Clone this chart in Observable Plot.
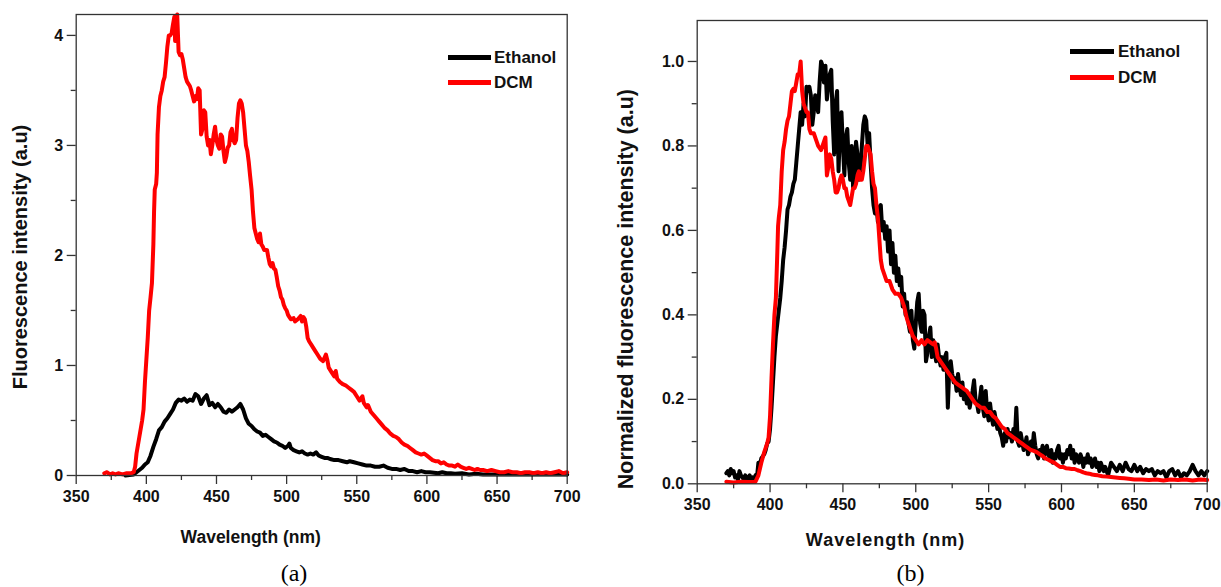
<!DOCTYPE html>
<html>
<head>
<meta charset="utf-8">
<script src="https://cdn.jsdelivr.net/npm/d3@7"></script>
<script src="https://cdn.jsdelivr.net/npm/@observablehq/plot@0.6"></script>
<style>
  html, body { margin: 0; padding: 0; background: #fff; }
  #wrap { position: relative; width: 1221px; height: 587px; overflow: hidden; background: #fff; }
  #wrap svg { position: absolute; top: 0; }
  .leg { position: absolute; font-family: "Liberation Sans", Arial, sans-serif; font-weight: bold; font-size: 17px; color: #111; line-height: 1; }
  .leg .sw { position: absolute; height: 5px; }
  .leg .tx { position: absolute; white-space: nowrap; transform: translateY(-50%); }
</style>
</head>
<body>
<div id="wrap"></div>
<script>
// ---- series names / colours ----
const seriesNames = ["Ethanol", "DCM"];
const seriesColors = ["#000000", "#ff0000"];

// ---- axis ticks ----
const xMajorTicks = [350, 400, 450, 500, 550, 600, 650, 700];
const xMinorTicks = [375, 425, 475, 525, 575, 625, 675];
const yMajorTicksA = [0, 1, 2, 3, 4];
const yMinorTicksA = [0.5, 1.5, 2.5, 3.5];
const yMajorTicksB = [0, 0.2, 0.4, 0.6, 0.8, 1.0];
const yMinorTicksB = [0.1, 0.3, 0.5, 0.7, 0.9];

// ---- panel (a): DCM ----
const dcmA_wl = [370,372,374,376,378,380,383,386,389,391,392,393,395,397,398,399,400,401,402,403,404,405,405.5,406,407,407.5,408,409,410,411,412,413,414,415,416,417,418,419,420,420.5,421,422,423,424,425,426,427,428,429,430,431,432,433,434,435,436,437,438,439,440,441,442,443,444,445,446,447,448,449,450,451,452,453,454,455,456,457,458,459,460,461,462,463,464,465,466,467,468,469,470,471,472,473,474,475,476,477,478,479,480,481,482,483,484,486,487,488,489,490,491,492,493,494,495,496,497,498,499,500,501,502,503,505,506,508,510,511,512,513,514,515,516,518,520,522,524,526,528,529,530,532,534,535,536,538,540,542,544,546,548,550,552,554,555,557,558,560,562,564,566,568,570,572,574,576,578,580,582,584,586,588,590,592,594,596,598,600,602,604,606,608,610,612,614,616,618,620,622,624,626,628,630,632,634,636,638,640,643,646,649,652,655,658,661,664,667,670,673,676,679,682,685,688,691,694,697,700];
const dcmA_val = [0.02,0.03,0.01,0.02,0.01,0.02,0.01,0.02,0.02,0.03,0.08,0.2,0.35,0.5,0.6,0.85,1.05,1.25,1.5,1.62,1.75,2.1,2.4,2.6,2.65,2.75,3.1,3.35,3.45,3.5,3.58,3.62,3.75,3.9,4.0,4.0,4.02,4.1,4.17,3.95,4.12,4.19,3.85,3.82,3.83,3.78,3.7,3.62,3.58,3.56,3.54,3.5,3.45,3.4,3.45,3.42,3.52,3.5,3.1,3.15,3.32,3.3,3.08,3.0,3.05,2.92,3.0,3.1,3.17,3.05,3.0,2.97,3.1,3.08,2.95,2.85,2.9,2.98,3.0,3.12,3.15,3.05,3.02,3.05,3.25,3.38,3.41,3.38,3.3,3.15,3.0,2.95,2.85,2.72,2.6,2.4,2.25,2.2,2.15,2.12,2.2,2.1,2.08,2.05,2.05,1.98,1.92,1.9,1.93,1.88,1.87,1.8,1.72,1.68,1.62,1.6,1.55,1.52,1.5,1.46,1.44,1.42,1.43,1.4,1.42,1.45,1.4,1.44,1.42,1.35,1.25,1.22,1.18,1.14,1.1,1.06,1.04,1.1,1.05,0.98,0.94,0.9,0.95,0.88,0.85,0.83,0.82,0.8,0.78,0.76,0.72,0.68,0.72,0.66,0.62,0.64,0.58,0.55,0.52,0.49,0.46,0.43,0.41,0.38,0.36,0.35,0.33,0.3,0.28,0.27,0.25,0.23,0.21,0.2,0.19,0.2,0.18,0.16,0.14,0.13,0.13,0.11,0.12,0.1,0.09,0.09,0.08,0.1,0.08,0.07,0.06,0.07,0.06,0.05,0.06,0.05,0.05,0.04,0.05,0.04,0.03,0.03,0.04,0.03,0.03,0.02,0.03,0.03,0.02,0.03,0.02,0.03,0.02,0.03,0.04,0.02,0.03];

// ---- panel (a): Ethanol ----
const ethA_wl = [385,388,391,393,395,397,399,401,403,405,407,409,411,413,415,417,419,421,423,425,427,429,431,433,435,437,439,441,443,445,447,449,451,453,455,457,459,461,463,465,467,469,471,473,475,477,479,481,483,485,487,489,491,493,495,497,499,501,502,503,505,507,509,511,513,515,517,519,521,523,525,527,529,531,534,537,540,543,545,548,551,554,557,560,563,566,569,572,575,578,581,584,587,590,593,596,599,602,605,608,611,614,617,620,625,630,635,640,650,660,670,680,690,700];
const ethA_val = [0.0,0.005,0.01,0.03,0.05,0.07,0.1,0.12,0.18,0.26,0.33,0.41,0.44,0.49,0.52,0.56,0.6,0.66,0.69,0.68,0.7,0.67,0.69,0.68,0.74,0.72,0.65,0.7,0.73,0.64,0.66,0.62,0.65,0.62,0.58,0.57,0.6,0.58,0.6,0.62,0.65,0.6,0.52,0.47,0.45,0.42,0.4,0.39,0.36,0.37,0.35,0.33,0.31,0.3,0.28,0.27,0.25,0.27,0.29,0.25,0.23,0.22,0.21,0.22,0.2,0.19,0.2,0.19,0.21,0.18,0.17,0.16,0.16,0.15,0.14,0.14,0.13,0.12,0.13,0.12,0.11,0.1,0.09,0.09,0.08,0.08,0.09,0.07,0.06,0.06,0.05,0.06,0.04,0.04,0.03,0.04,0.03,0.03,0.025,0.02,0.03,0.02,0.02,0.015,0.02,0.01,0.015,0.01,0.01,0.01,0.01,0.01,0.01,0.01];

// ---- panel (b): DCM normalized ----
const dcmB_wl = [370,375,380,385,390,392,394,396,398,399,400,401,402,403,404,405,405.5,406,407,408,409,410,411,412,413,414,415,416,417,418,419,420,421,422,423,424,425,426,427,428,430,432,433,435,436,437,438,439,440,441,442,443,444,445,446,447,448,449,450,451,452,453,454,455,456,457,458,459,460,461,462,463,464,465,466,467,468,469,470,471,472,473,474,475,476,477,478,480,482,484,486,488,490,491,492,494,496,498,500,502,504,506,508,510,512,513,514,515,517,519,521,523,525,527,529,531,533,535,537,539,541,543,545,547,549,551,553,555,557,559,561,563,565,567,569,571,573,575,577,579,581,583,585,587,589,591,593,595,597,599,601,603,605,607,609,611,613,615,617,619,621,623,625,628,631,634,637,640,643,646,650,655,660,665,670,675,680,685,690,695,700];
const dcmB_val = [0.005,0.003,0.005,0.004,0.005,0.02,0.05,0.075,0.095,0.11,0.16,0.25,0.33,0.4,0.44,0.55,0.61,0.63,0.66,0.74,0.79,0.81,0.84,0.86,0.87,0.9,0.93,0.935,0.93,0.95,0.97,0.97,1.0,0.93,0.9,0.89,0.88,0.88,0.84,0.83,0.83,0.81,0.8,0.79,0.8,0.81,0.82,0.73,0.75,0.78,0.77,0.74,0.72,0.69,0.69,0.7,0.72,0.73,0.72,0.7,0.7,0.68,0.67,0.66,0.68,0.7,0.7,0.71,0.73,0.74,0.72,0.72,0.74,0.77,0.8,0.8,0.79,0.78,0.74,0.71,0.7,0.66,0.63,0.58,0.53,0.51,0.5,0.48,0.48,0.46,0.45,0.45,0.44,0.43,0.42,0.39,0.37,0.35,0.34,0.33,0.34,0.33,0.34,0.335,0.33,0.335,0.32,0.3,0.29,0.28,0.27,0.26,0.25,0.24,0.235,0.23,0.225,0.22,0.21,0.2,0.19,0.185,0.18,0.18,0.17,0.17,0.16,0.155,0.145,0.135,0.13,0.12,0.115,0.11,0.105,0.1,0.095,0.09,0.085,0.08,0.078,0.075,0.07,0.066,0.06,0.057,0.053,0.05,0.045,0.04,0.04,0.037,0.036,0.035,0.035,0.032,0.03,0.027,0.025,0.024,0.022,0.021,0.02,0.018,0.017,0.016,0.015,0.014,0.013,0.012,0.01,0.01,0.009,0.01,0.008,0.01,0.009,0.01,0.008,0.01,0.009];

// ---- panel (b): Ethanol normalized ----
const ethB_wl = [370,371,372,373,374,375,376,377,378,379,380,381,382,383,384,385,386,387,388,389,390,391,392,393,394,395,396,397,398,399,400,401,402,403,404,405,406,407,408,409,410,411,412,413,414,415,416,417,418,419,420,421,422,423,424,425,426,427,428,429,430,431,432,433,434,435,436,437,438,439,440,441,442,443,444,445,446,447,448,449,450,451,452,453,454,455,456,457,458,459,460,461,462,463,464,465,466,467,468,469,470,471,472,473,474,475,476,477,478,479,480,481,482,483,484,485,486,487,488,489,490,491,492,493,494,495,496,497,498,499,500,501,502,503,504,505,506,507,508,509,510,511,512,513,514,515,516,517,518,519,520,521,522,523,524,525,526,527,528,529,530,531,532,533,534,535,536,537,538,539,540,541,542,543,544,545,546,547,548,549,550,551,552,553,554,555,556,557,558,559,560,561,562,563,564,565,566,567,568,569,570,571,572,573,574,575,576,577,578,579,580,581,582,583,584,585,586,587,588,589,590,591,592,593,594,595,596,597,598,599,600,601,602,603,604,605,606,607,608,609,610,611,612,613,614,615,616,617,618,619,620,621,622,623,624,625,626,627,628,629,630,632,634,636,638,640,642,644,646,648,650,652,654,656,658,660,662,664,666,668,670,672,674,676,678,680,682,684,686,688,690,692,694,696,698,700];
const ethB_val = [0.025,0.03,0.02,0.035,0.025,0.03,0.015,0.02,0.01,0.03,0.02,0.015,0.01,0.02,0.01,0.015,0.02,0.01,0.015,0.01,0.02,0.015,0.05,0.045,0.06,0.065,0.07,0.08,0.095,0.1,0.13,0.18,0.24,0.3,0.35,0.38,0.41,0.44,0.48,0.53,0.56,0.6,0.65,0.66,0.68,0.69,0.71,0.72,0.76,0.8,0.84,0.88,0.85,0.9,0.87,0.94,0.93,0.94,0.92,0.85,0.88,0.92,0.9,0.88,0.95,1.0,0.99,0.95,0.99,0.91,0.94,0.97,0.98,0.86,0.78,0.9,0.93,0.74,0.84,0.88,0.8,0.73,0.82,0.84,0.76,0.72,0.8,0.7,0.74,0.81,0.78,0.72,0.74,0.8,0.85,0.87,0.86,0.8,0.83,0.76,0.7,0.66,0.64,0.66,0.62,0.65,0.66,0.6,0.62,0.58,0.61,0.55,0.6,0.52,0.57,0.5,0.54,0.48,0.51,0.47,0.49,0.42,0.45,0.4,0.43,0.38,0.36,0.41,0.34,0.32,0.38,0.43,0.45,0.38,0.36,0.41,0.4,0.29,0.31,0.35,0.37,0.3,0.34,0.31,0.29,0.33,0.3,0.28,0.3,0.27,0.3,0.31,0.18,0.27,0.29,0.26,0.24,0.25,0.22,0.26,0.23,0.21,0.24,0.2,0.22,0.19,0.21,0.18,0.2,0.22,0.245,0.2,0.19,0.17,0.2,0.23,0.18,0.16,0.22,0.17,0.15,0.19,0.16,0.14,0.17,0.15,0.13,0.14,0.12,0.11,0.09,0.12,0.1,0.13,0.11,0.12,0.1,0.13,0.11,0.18,0.1,0.09,0.12,0.1,0.08,0.09,0.11,0.07,0.08,0.1,0.08,0.12,0.09,0.07,0.06,0.08,0.07,0.09,0.06,0.08,0.09,0.07,0.06,0.08,0.05,0.07,0.06,0.08,0.09,0.06,0.07,0.05,0.07,0.06,0.08,0.07,0.09,0.06,0.08,0.05,0.07,0.06,0.05,0.07,0.06,0.04,0.06,0.05,0.07,0.05,0.06,0.04,0.05,0.06,0.04,0.05,0.03,0.05,0.04,0.03,0.04,0.02,0.05,0.04,0.03,0.045,0.03,0.05,0.035,0.03,0.045,0.03,0.04,0.025,0.035,0.03,0.035,0.02,0.03,0.025,0.03,0.015,0.03,0.035,0.02,0.03,0.015,0.025,0.02,0.03,0.045,0.03,0.02,0.03,0.02,0.03];

// ---- texts ----
const xTitle = "Wavelength (nm)";
const yTitleA = "Fluorescence intensity (a.u)";
const yTitleB = "Normalized fluorescence intensity (a.u)";
const captions = ["(a)", "(b)"];

const SANS = "'Liberation Sans', Arial, sans-serif";
const SERIF = "'Liberation Serif', 'Times New Roman', serif";
const AX = "#333";

function panel(cfg) {
  return Plot.plot({
    width: cfg.width, height: 587,
    marginLeft: cfg.ml, marginRight: cfg.mr, marginTop: cfg.mt, marginBottom: cfg.mb,
    x: {domain: [350, 700]},
    y: {domain: cfg.yDomain},
    style: {fontFamily: SANS, fontWeight: "bold", fontSize: "15.5px", color: "#111", background: "transparent", overflow: "visible"},
    marks: [
      Plot.axisX({ticks: xMajorTicks, tickSize: 9, tickPadding: 6, tickFormat: d => String(d), label: null, stroke: AX, strokeWidth: 1.3, fontSize: 16}),
      Plot.axisX({ticks: xMinorTicks, tickSize: 5, tickFormat: () => "", label: null, stroke: AX, strokeWidth: 1.3}),
      Plot.axisY({ticks: cfg.yMajor, tickSize: 9, tickPadding: 4, tickFormat: cfg.yFormat, label: null, stroke: AX, strokeWidth: 1.3, fontSize: 16}),
      Plot.axisY({ticks: cfg.yMinor, tickSize: 5, tickFormat: () => "", label: null, stroke: AX, strokeWidth: 1.3}),
      Plot.line(cfg.eth.val, {x: cfg.eth.wl, y: cfg.eth.val, stroke: seriesColors[0], strokeWidth: 4, strokeLinejoin: "round"}),
      Plot.line(cfg.dcm.val, {x: cfg.dcm.wl, y: cfg.dcm.val, stroke: seriesColors[1], strokeWidth: 4, strokeLinejoin: "round"}),
      Plot.frame({stroke: AX, strokeWidth: 1.3}),
      Plot.text([cfg.yTitle], {frameAnchor: "left", textAnchor: "middle", lineAnchor: "middle", rotate: -90, dx: cfg.ytDx, dy: cfg.ytDy, fontSize: cfg.ytSize, fontWeight: "bold", fill: "#111"}),
      Plot.text([xTitle], {frameAnchor: "bottom", textAnchor: "middle", lineAnchor: "middle", dx: cfg.xtDx, dy: cfg.xtDy, fontSize: cfg.xtSize, fontWeight: "bold", fill: "#111", className: cfg.xtClass}),
      Plot.text([cfg.caption], {frameAnchor: "bottom", textAnchor: "middle", lineAnchor: "middle", dx: cfg.capDx, dy: cfg.capDy, fontSize: 24, fontWeight: "normal", fontFamily: SERIF, fill: "#000"})
    ]
  });
}

const fA = d3.format("d");
const fB = d3.format(".1f");

const svgA = panel({
  width: 600, ml: 75.7, mr: 33.3, mt: 14, mb: 112,
  yDomain: [0, 4.19], yMajor: yMajorTicksA, yMinor: yMinorTicksA, yFormat: fA,
  eth: {wl: ethA_wl, val: ethA_val}, dcm: {wl: dcmA_wl, val: dcmA_val},
  yTitle: yTitleA, ytDx: -56, ytDy: 12, ytSize: 20,
  xtDx: -71, xtDy: 62, xtSize: 17.5, xtClass: "xtA",
  caption: captions[0], capDx: -27.7, capDy: 98
});
const svgB = panel({
  width: 621, ml: 96.7, mr: 14.3, mt: 20, mb: 103.7,
  yDomain: [0, 1.097], yMajor: yMajorTicksB, yMinor: yMinorTicksB, yFormat: fB,
  eth: {wl: ethB_wl, val: ethB_val}, dcm: {wl: dcmB_wl, val: dcmB_val},
  yTitle: yTitleB, ytDx: -71, ytDy: 37, ytSize: 21.5,
  xtDx: -66.7, xtDy: 56.7, xtSize: 18, xtClass: "xtB",
  caption: captions[1], capDx: -41.7, capDy: 89.7
});

const wrap = document.getElementById("wrap");
svgA.style.left = "0px";
svgB.style.left = "600px";
wrap.appendChild(svgA);
wrap.appendChild(svgB);
svgB.querySelectorAll(".xtB text").forEach(t => t.setAttribute("letter-spacing", "1px"));

// ---- legends (HTML) ----
function legend(items) {
  items.forEach(it => {
    const d = document.createElement("div");
    d.className = "leg";
    d.style.left = "0px"; d.style.top = "0px";
    const sw = document.createElement("div");
    sw.className = "sw";
    sw.style.left = it.x0 + "px";
    sw.style.width = (it.x1 - it.x0) + "px";
    sw.style.top = (it.y - 2.5) + "px";
    sw.style.background = it.color;
    const tx = document.createElement("div");
    tx.className = "tx";
    tx.style.left = it.tx + "px";
    tx.style.top = it.y + "px";
    tx.textContent = it.name;
    d.appendChild(sw); d.appendChild(tx);
    wrap.appendChild(d);
  });
}
legend([
  {name: seriesNames[0], color: seriesColors[0], x0: 448, x1: 491, tx: 494, y: 57},
  {name: seriesNames[1], color: seriesColors[1], x0: 448, x1: 491, tx: 494, y: 82},
  {name: seriesNames[0], color: seriesColors[0], x0: 1070, x1: 1114, tx: 1118, y: 51},
  {name: seriesNames[1], color: seriesColors[1], x0: 1070, x1: 1114, tx: 1118, y: 77}
]);
</script>
</body>
</html>
